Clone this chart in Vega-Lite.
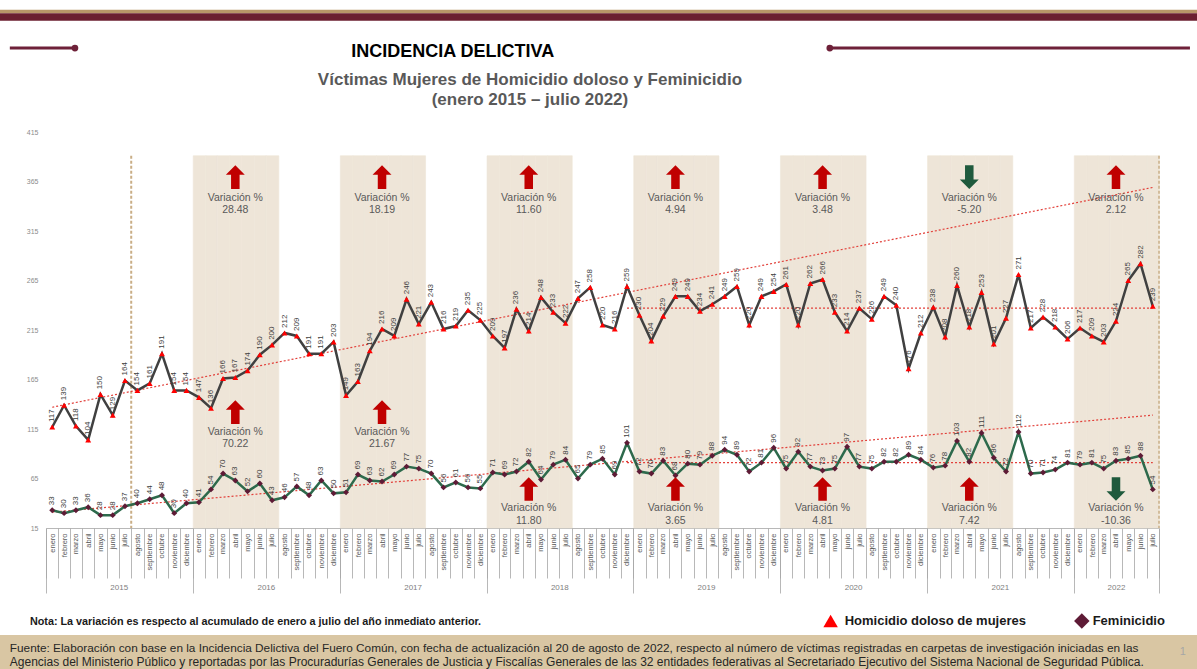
{
"$schema":"https://vega.github.io/schema/vega-lite/v6.json",
"width":1113,"height":396,
"autosize":{"type":"none"},
"padding":{"left":46,"top":132,"right":38,"bottom":141},
"background":"#FFFFFF",
"config":{"view":{"stroke":null},"font":"Liberation Sans"},
"datasets":{
"mensual":[
{"fecha":"2015-01","homicidio":117,"feminicidio":33},{"fecha":"2015-02","homicidio":139,"feminicidio":30},{"fecha":"2015-03","homicidio":118,"feminicidio":33},{"fecha":"2015-04","homicidio":104,"feminicidio":36},{"fecha":"2015-05","homicidio":150,"feminicidio":28},{"fecha":"2015-06","homicidio":129,"feminicidio":28},{"fecha":"2015-07","homicidio":164,"feminicidio":37},{"fecha":"2015-08","homicidio":154,"feminicidio":40},{"fecha":"2015-09","homicidio":161,"feminicidio":44},{"fecha":"2015-10","homicidio":191,"feminicidio":48},{"fecha":"2015-11","homicidio":154,"feminicidio":30},{"fecha":"2015-12","homicidio":154,"feminicidio":40},
{"fecha":"2016-01","homicidio":147,"feminicidio":41},{"fecha":"2016-02","homicidio":136,"feminicidio":54},{"fecha":"2016-03","homicidio":166,"feminicidio":70},{"fecha":"2016-04","homicidio":167,"feminicidio":63},{"fecha":"2016-05","homicidio":174,"feminicidio":52},{"fecha":"2016-06","homicidio":190,"feminicidio":60},{"fecha":"2016-07","homicidio":200,"feminicidio":43},{"fecha":"2016-08","homicidio":212,"feminicidio":46},{"fecha":"2016-09","homicidio":209,"feminicidio":57},{"fecha":"2016-10","homicidio":191,"feminicidio":48},{"fecha":"2016-11","homicidio":191,"feminicidio":63},{"fecha":"2016-12","homicidio":203,"feminicidio":50},
{"fecha":"2017-01","homicidio":149,"feminicidio":51},{"fecha":"2017-02","homicidio":163,"feminicidio":69},{"fecha":"2017-03","homicidio":194,"feminicidio":63},{"fecha":"2017-04","homicidio":216,"feminicidio":62},{"fecha":"2017-05","homicidio":209,"feminicidio":69},{"fecha":"2017-06","homicidio":246,"feminicidio":77},{"fecha":"2017-07","homicidio":221,"feminicidio":75},{"fecha":"2017-08","homicidio":243,"feminicidio":70},{"fecha":"2017-09","homicidio":216,"feminicidio":56},{"fecha":"2017-10","homicidio":219,"feminicidio":61},{"fecha":"2017-11","homicidio":235,"feminicidio":56},{"fecha":"2017-12","homicidio":225,"feminicidio":55},
{"fecha":"2018-01","homicidio":209,"feminicidio":71},{"fecha":"2018-02","homicidio":197,"feminicidio":69},{"fecha":"2018-03","homicidio":236,"feminicidio":72},{"fecha":"2018-04","homicidio":214,"feminicidio":82},{"fecha":"2018-05","homicidio":248,"feminicidio":64},{"fecha":"2018-06","homicidio":233,"feminicidio":79},{"fecha":"2018-07","homicidio":222,"feminicidio":84},{"fecha":"2018-08","homicidio":247,"feminicidio":65},{"fecha":"2018-09","homicidio":258,"feminicidio":79},{"fecha":"2018-10","homicidio":220,"feminicidio":85},{"fecha":"2018-11","homicidio":216,"feminicidio":69},{"fecha":"2018-12","homicidio":259,"feminicidio":101},
{"fecha":"2019-01","homicidio":230,"feminicidio":72},{"fecha":"2019-02","homicidio":204,"feminicidio":70},{"fecha":"2019-03","homicidio":229,"feminicidio":83},{"fecha":"2019-04","homicidio":249,"feminicidio":68},{"fecha":"2019-05","homicidio":249,"feminicidio":80},{"fecha":"2019-06","homicidio":234,"feminicidio":79},{"fecha":"2019-07","homicidio":241,"feminicidio":88},{"fecha":"2019-08","homicidio":249,"feminicidio":94},{"fecha":"2019-09","homicidio":259,"feminicidio":89},{"fecha":"2019-10","homicidio":220,"feminicidio":72},{"fecha":"2019-11","homicidio":249,"feminicidio":81},{"fecha":"2019-12","homicidio":254,"feminicidio":96},
{"fecha":"2020-01","homicidio":261,"feminicidio":75},{"fecha":"2020-02","homicidio":220,"feminicidio":92},{"fecha":"2020-03","homicidio":262,"feminicidio":77},{"fecha":"2020-04","homicidio":266,"feminicidio":73},{"fecha":"2020-05","homicidio":233,"feminicidio":75},{"fecha":"2020-06","homicidio":214,"feminicidio":97},{"fecha":"2020-07","homicidio":237,"feminicidio":77},{"fecha":"2020-08","homicidio":226,"feminicidio":75},{"fecha":"2020-09","homicidio":249,"feminicidio":82},{"fecha":"2020-10","homicidio":240,"feminicidio":82},{"fecha":"2020-11","homicidio":176,"feminicidio":89},{"fecha":"2020-12","homicidio":212,"feminicidio":84},
{"fecha":"2021-01","homicidio":238,"feminicidio":76},{"fecha":"2021-02","homicidio":208,"feminicidio":78},{"fecha":"2021-03","homicidio":260,"feminicidio":103},{"fecha":"2021-04","homicidio":218,"feminicidio":82},{"fecha":"2021-05","homicidio":253,"feminicidio":111},{"fecha":"2021-06","homicidio":201,"feminicidio":86},{"fecha":"2021-07","homicidio":227,"feminicidio":72},{"fecha":"2021-08","homicidio":271,"feminicidio":112},{"fecha":"2021-09","homicidio":217,"feminicidio":70},{"fecha":"2021-10","homicidio":228,"feminicidio":71},{"fecha":"2021-11","homicidio":218,"feminicidio":74},{"fecha":"2021-12","homicidio":206,"feminicidio":81},
{"fecha":"2022-01","homicidio":217,"feminicidio":79},{"fecha":"2022-02","homicidio":209,"feminicidio":81},{"fecha":"2022-03","homicidio":203,"feminicidio":75},{"fecha":"2022-04","homicidio":224,"feminicidio":83},{"fecha":"2022-05","homicidio":265,"feminicidio":85},{"fecha":"2022-06","homicidio":282,"feminicidio":88},{"fecha":"2022-07","homicidio":239,"feminicidio":54}
],
"tendencias":[
{"linea":"hom_tendencia","fecha":"2015-01","valor":137},{"linea":"hom_tendencia","fecha":"2022-07","valor":359},
{"linea":"hom_promedio","fecha":"2018-12","valor":237},{"linea":"hom_promedio","fecha":"2022-07","valor":237},
{"linea":"fem_tendencia","fecha":"2015-01","valor":31},{"linea":"fem_tendencia","fecha":"2022-07","valor":129},
{"linea":"fem_promedio","fecha":"2018-12","valor":81},{"linea":"fem_promedio","fecha":"2022-07","valor":81}
],
"variaciones":[
{"anio":2016,"centro":"2016-04","serie":"homicidio","variacion":"28.48"},
{"anio":2017,"centro":"2017-04","serie":"homicidio","variacion":"18.19"},
{"anio":2018,"centro":"2018-04","serie":"homicidio","variacion":"11.60"},
{"anio":2019,"centro":"2019-04","serie":"homicidio","variacion":"4.94"},
{"anio":2020,"centro":"2020-04","serie":"homicidio","variacion":"3.48"},
{"anio":2021,"centro":"2021-04","serie":"homicidio","variacion":"-5.20"},
{"anio":2022,"centro":"2022-04","serie":"homicidio","variacion":"2.12"},
{"anio":2016,"centro":"2016-04","serie":"feminicidio","variacion":"70.22"},
{"anio":2017,"centro":"2017-04","serie":"feminicidio","variacion":"21.67"},
{"anio":2018,"centro":"2018-04","serie":"feminicidio","variacion":"11.80"},
{"anio":2019,"centro":"2019-04","serie":"feminicidio","variacion":"3.65"},
{"anio":2020,"centro":"2020-04","serie":"feminicidio","variacion":"4.81"},
{"anio":2021,"centro":"2021-04","serie":"feminicidio","variacion":"7.42"},
{"anio":2022,"centro":"2022-04","serie":"feminicidio","variacion":"-10.36"}
]
},
"resolve":{"axis":{"x":"independent"}},
"layer":[
{"data":{"values":[{}]},"mark":{"type":"rect","color":"#B89668"},
 "encoding":{"x":{"datum":{"year":2014,"month":8,"date":1,"utc":true},"type":"temporal","axis":null},"x2":{"datum":{"year":2023,"month":1,"date":1,"utc":true}},"y":{"datum":538.5,"type":"quantitative"},"y2":{"datum":535}}},
{"data":{"values":[{}]},"mark":{"type":"rect","color":"#6B1F30"},
 "encoding":{"x":{"datum":{"year":2014,"month":8,"date":1,"utc":true},"type":"temporal","axis":null},"x2":{"datum":{"year":2023,"month":1,"date":1,"utc":true}},"y":{"datum":535,"type":"quantitative"},"y2":{"datum":527.5}}},
{"data":{"values":[{}]},"mark":{"type":"rect","color":"#D9C6A3"},
 "encoding":{"x":{"datum":{"year":2014,"month":8,"date":1,"utc":true},"type":"temporal","axis":null},"x2":{"datum":{"year":2023,"month":1,"date":1,"utc":true}},"y":{"datum":-93,"type":"quantitative"},"y2":{"datum":-140}}},
{"data":{"name":"mensual"},
 "transform":[{"filter":"utcmonth(toDate(datum.fecha)) < 7 && utcyear(toDate(datum.fecha)) >= 2016"}],
 "mark":{"type":"rect","color":"#EEE5D8","stroke":"#EEE5D8","strokeWidth":0.6},
 "encoding":{
  "x":{"field":"fecha","timeUnit":"utcyearmonth","type":"temporal",
   "scale":{"type":"utc","domain":[{"year":2015,"month":1,"date":1,"utc":true},{"year":2022,"month":8,"date":1,"utc":true}]},
   "axis":{"orient":"bottom","tickCount":{"interval":"month","step":1},"tickSize":50,"tickColor":"#A6A6A6","tickWidth":0.8,"domainColor":"#A6A6A6","domainWidth":0.8,"labelAngle":270,"labelPadding":-45,"labelOffset":6,"labelFontSize":7.5,"labelColor":"#595959","labelOverlap":false,"labelFlush":false,"grid":false,"title":null,
    "labelExpr":"datum.value >= utc(2022,7,1) ? '' : ['enero','febrero','marzo','abril','mayo','junio','julio','agosto','septiembre','octubre','noviembre','diciembre'][utcmonth(datum.value)]"}},
  "y":{"datum":391,"type":"quantitative","scale":{"domain":[15,415],"nice":false,"zero":false},
   "axis":{"orient":"left","values":[15,65,115,165,215,265,315,365,415],"ticks":false,"domain":false,"grid":false,"labelFontSize":7,"labelColor":"#8C8C8C","labelPadding":8,"title":null}},
  "y2":{"datum":15}}},
{"data":{"values":[{}]},"mark":{"type":"rule","color":"#C9AE86","strokeWidth":2,"strokeDash":[3,2]},
 "encoding":{"x":{"datum":{"year":2015,"month":8,"date":1,"utc":true},"type":"temporal","axis":null},"y":{"datum":391,"type":"quantitative"},"y2":{"datum":15}}},
{"data":{"values":[{}]},"mark":{"type":"rule","color":"#C9AE86","strokeWidth":1.5,"strokeDash":[3,2]},
 "encoding":{"x":{"datum":{"year":2022,"month":8,"date":1,"utc":true},"type":"temporal","axis":null},"y":{"datum":391,"type":"quantitative"},"y2":{"datum":15}}},
{"data":{"name":"tendencias"},
 "mark":{"type":"line","color":"#E2403A","strokeWidth":1.2,"strokeDash":[2,2]},
 "encoding":{"x":{"field":"fecha","timeUnit":"utcyearmonth","type":"temporal","bandPosition":0.5,"axis":null},"y":{"field":"valor","type":"quantitative","title":null},"detail":{"field":"linea","type":"nominal"}}},
{"data":{"name":"mensual"},
 "transform":[{"fold":["homicidio","feminicidio"],"as":["serie","valor"]}],
 "mark":{"type":"line","strokeWidth":2.5},
 "encoding":{
  "x":{"field":"fecha","timeUnit":"utcyearmonth","type":"temporal","bandPosition":0.5,
   "axis":{"orient":"bottom","values":[{"year":2015,"month":1,"date":1,"utc":true},{"year":2016,"month":1,"date":1,"utc":true},{"year":2017,"month":1,"date":1,"utc":true},{"year":2018,"month":1,"date":1,"utc":true},{"year":2019,"month":1,"date":1,"utc":true},{"year":2020,"month":1,"date":1,"utc":true},{"year":2021,"month":1,"date":1,"utc":true},{"year":2022,"month":1,"date":1,"utc":true},{"year":2022,"month":8,"date":1,"utc":true}],"tickSize":65,"tickColor":"#A6A6A6","tickWidth":0.8,"labels":false,"domain":false,"grid":false,"title":null}},
  "y":{"field":"valor","type":"quantitative","title":null},
  "stroke":{"field":"serie","type":"nominal","scale":{"domain":["homicidio","feminicidio"],"range":["#404040","#2D6A4C"]},"legend":null},
  "detail":{"field":"serie","type":"nominal"}}},
{"data":{"name":"mensual"},
 "transform":[{"fold":["homicidio","feminicidio"],"as":["serie","valor"]}],
 "mark":{"type":"point","filled":true,"size":35,"opacity":1},
 "encoding":{
  "x":{"field":"fecha","timeUnit":"utcyearmonth","type":"temporal","bandPosition":0.5,
   "axis":{"orient":"bottom","values":[{"year":2015,"month":7,"date":1,"utc":true},{"year":2016,"month":7,"date":1,"utc":true},{"year":2017,"month":7,"date":1,"utc":true},{"year":2018,"month":7,"date":1,"utc":true},{"year":2019,"month":7,"date":1,"utc":true},{"year":2020,"month":7,"date":1,"utc":true},{"year":2021,"month":7,"date":1,"utc":true},{"year":2022,"month":4,"date":16,"utc":true}],"ticks":false,"domain":false,"labelPadding":55,"labelExpr":"utcFormat(datum.value, '%Y')","labelFontSize":8,"labelColor":"#808080","labelFlush":false,"labelOverlap":false,"labelAngle":0,"grid":false,"title":null}},
  "y":{"field":"valor","type":"quantitative","title":null},
  "color":{"field":"serie","type":"nominal","scale":{"domain":["homicidio","feminicidio"],"range":["#FF0000","#5E1B36"]},"legend":null},
  "shape":{"field":"serie","type":"nominal","scale":{"domain":["homicidio","feminicidio"],"range":["triangle-up","diamond"]},"legend":null}}},
{"data":{"name":"mensual"},
 "transform":[{"fold":["homicidio","feminicidio"],"as":["serie","valor"]}],
 "mark":{"type":"text","angle":270,"align":"left","baseline":"middle","dx":5,"fontSize":8,"color":"#404040"},
 "encoding":{"x":{"field":"fecha","timeUnit":"utcyearmonth","type":"temporal","bandPosition":0.5,"axis":null},"y":{"field":"valor","type":"quantitative","title":null},"text":{"field":"valor","type":"quantitative"}}},

{"data":{"name":"variaciones"},"transform":[{"filter":"datum.serie == 'homicidio'"}],
 "mark":{"type":"point","filled":true,"opacity":1,"size":560,"strokeWidth":0},
 "encoding":{"x":{"field":"centro","timeUnit":"utcyearmonth","type":"temporal","bandPosition":0.5,"axis":null},"y":{"datum":369.5,"type":"quantitative"},
  "shape":{"condition":{"test":"toNumber(datum.variacion) < 0","value":"M0,1L0.8,0.2L0.36,0.2L0.36,-1L-0.36,-1L-0.36,0.2L-0.8,0.2Z"},"value":"M0,-1L0.8,-0.2L0.36,-0.2L0.36,1L-0.36,1L-0.36,-0.2L-0.8,-0.2Z"},
  "color":{"condition":{"test":"toNumber(datum.variacion) < 0","value":"#1F5A3D"},"value":"#C00000"}}},
{"data":{"name":"variaciones"},"transform":[{"filter":"datum.serie == 'homicidio'"}],
 "mark":{"type":"text","fontSize":10.5,"color":"#595959","align":"center","baseline":"middle"},
 "encoding":{"x":{"field":"centro","timeUnit":"utcyearmonth","type":"temporal","bandPosition":0.5,"axis":null},"y":{"datum":348.3,"type":"quantitative"},"text":{"value":"Variación %"}}},
{"data":{"name":"variaciones"},"transform":[{"filter":"datum.serie == 'homicidio'"}],
 "mark":{"type":"text","fontSize":10.5,"color":"#595959","align":"center","baseline":"middle"},
 "encoding":{"x":{"field":"centro","timeUnit":"utcyearmonth","type":"temporal","bandPosition":0.5,"axis":null},"y":{"datum":336.2,"type":"quantitative"},"text":{"field":"variacion","type":"nominal"}}},

{"data":{"name":"variaciones"},"transform":[{"filter":"datum.serie == 'feminicidio' && datum.anio <= 2017"}],
 "mark":{"type":"point","filled":true,"opacity":1,"size":560,"strokeWidth":0},
 "encoding":{"x":{"field":"centro","timeUnit":"utcyearmonth","type":"temporal","bandPosition":0.5,"axis":null},"y":{"datum":132,"type":"quantitative"},
  "shape":{"condition":{"test":"toNumber(datum.variacion) < 0","value":"M0,1L0.8,0.2L0.36,0.2L0.36,-1L-0.36,-1L-0.36,0.2L-0.8,0.2Z"},"value":"M0,-1L0.8,-0.2L0.36,-0.2L0.36,1L-0.36,1L-0.36,-0.2L-0.8,-0.2Z"},
  "color":{"condition":{"test":"toNumber(datum.variacion) < 0","value":"#1F5A3D"},"value":"#C00000"}}},
{"data":{"name":"variaciones"},"transform":[{"filter":"datum.serie == 'feminicidio' && datum.anio <= 2017"}],
 "mark":{"type":"text","fontSize":10.5,"color":"#595959","align":"center","baseline":"middle"},
 "encoding":{"x":{"field":"centro","timeUnit":"utcyearmonth","type":"temporal","bandPosition":0.5,"axis":null},"y":{"datum":112,"type":"quantitative"},"text":{"value":"Variación %"}}},
{"data":{"name":"variaciones"},"transform":[{"filter":"datum.serie == 'feminicidio' && datum.anio <= 2017"}],
 "mark":{"type":"text","fontSize":10.5,"color":"#595959","align":"center","baseline":"middle"},
 "encoding":{"x":{"field":"centro","timeUnit":"utcyearmonth","type":"temporal","bandPosition":0.5,"axis":null},"y":{"datum":99.8,"type":"quantitative"},"text":{"field":"variacion","type":"nominal"}}},

{"data":{"name":"variaciones"},"transform":[{"filter":"datum.serie == 'feminicidio' && datum.anio >= 2018"}],
 "mark":{"type":"point","filled":true,"opacity":1,"size":560,"strokeWidth":0},
 "encoding":{"x":{"field":"centro","timeUnit":"utcyearmonth","type":"temporal","bandPosition":0.5,"axis":null},"y":{"datum":54.4,"type":"quantitative"},
  "shape":{"condition":{"test":"toNumber(datum.variacion) < 0","value":"M0,1L0.8,0.2L0.36,0.2L0.36,-1L-0.36,-1L-0.36,0.2L-0.8,0.2Z"},"value":"M0,-1L0.8,-0.2L0.36,-0.2L0.36,1L-0.36,1L-0.36,-0.2L-0.8,-0.2Z"},
  "color":{"condition":{"test":"toNumber(datum.variacion) < 0","value":"#1F5A3D"},"value":"#C00000"}}},
{"data":{"name":"variaciones"},"transform":[{"filter":"datum.serie == 'feminicidio' && datum.anio >= 2018"}],
 "mark":{"type":"text","fontSize":10.5,"color":"#595959","align":"center","baseline":"middle"},
 "encoding":{"x":{"field":"centro","timeUnit":"utcyearmonth","type":"temporal","bandPosition":0.5,"axis":null},"y":{"datum":35.2,"type":"quantitative"},"text":{"value":"Variación %"}}},
{"data":{"name":"variaciones"},"transform":[{"filter":"datum.serie == 'feminicidio' && datum.anio >= 2018"}],
 "mark":{"type":"text","fontSize":10.5,"color":"#595959","align":"center","baseline":"middle"},
 "encoding":{"x":{"field":"centro","timeUnit":"utcyearmonth","type":"temporal","bandPosition":0.5,"axis":null},"y":{"datum":22.1,"type":"quantitative"},"text":{"field":"variacion","type":"nominal"}}},

{"data":{"values":[{}]},"mark":{"type":"point","shape":"triangle-up","filled":true,"color":"#FF0000","size":210,"opacity":1},
 "encoding":{"x":{"datum":{"year":2020,"month":5,"date":6,"utc":true},"type":"temporal","axis":null},"y":{"datum":-78.9,"type":"quantitative"}}},
{"data":{"values":[{}]},"mark":{"type":"text","fontSize":13,"fontWeight":"bold","color":"#1A1A1A","align":"left","baseline":"middle"},
 "encoding":{"x":{"datum":{"year":2020,"month":6,"date":10,"utc":true},"type":"temporal","axis":null},"y":{"datum":-78.9,"type":"quantitative"},"text":{"value":"Homicidio doloso de mujeres"}}},
{"data":{"values":[{}]},"mark":{"type":"point","shape":"diamond","filled":true,"color":"#5E1B36","size":240,"opacity":1},
 "encoding":{"x":{"datum":{"year":2022,"month":1,"date":21,"utc":true},"type":"temporal","axis":null},"y":{"datum":-78.9,"type":"quantitative"}}},
{"data":{"values":[{}]},"mark":{"type":"text","fontSize":13,"fontWeight":"bold","color":"#1A1A1A","align":"left","baseline":"middle"},
 "encoding":{"x":{"datum":{"year":2022,"month":2,"date":17,"utc":true},"type":"temporal","axis":null},"y":{"datum":-78.9,"type":"quantitative"},"text":{"value":"Feminicidio"}}},

{"data":{"values":[{}]},"mark":{"type":"rule","color":"#6E2139","strokeWidth":3},
 "encoding":{"x":{"datum":{"year":2014,"month":10,"date":3,"utc":true},"type":"temporal","axis":null},"x2":{"datum":{"year":2015,"month":3,"date":14,"utc":true}},"y":{"datum":499.8,"type":"quantitative"}}},
{"data":{"values":[{}]},"mark":{"type":"rule","color":"#6E2139","strokeWidth":3},
 "encoding":{"x":{"datum":{"year":2020,"month":5,"date":4,"utc":true},"type":"temporal","axis":null},"x2":{"datum":{"year":2022,"month":10,"date":17,"utc":true}},"y":{"datum":499.8,"type":"quantitative"}}},
{"data":{"values":[{}]},"mark":{"type":"point","shape":"circle","filled":true,"color":"#6E2139","size":45,"opacity":1},
 "encoding":{"x":{"datum":{"year":2015,"month":3,"date":14,"utc":true},"type":"temporal","axis":null},"y":{"datum":499.8,"type":"quantitative"}}},
{"data":{"values":[{}]},"mark":{"type":"point","shape":"circle","filled":true,"color":"#6E2139","size":45,"opacity":1},
 "encoding":{"x":{"datum":{"year":2020,"month":5,"date":4,"utc":true},"type":"temporal","axis":null},"y":{"datum":499.8,"type":"quantitative"}}},

{"data":{"values":[{}]},"mark":{"type":"text","fontSize":18,"fontWeight":"bold","color":"#000000","align":"center","baseline":"middle"},
 "encoding":{"x":{"datum":{"year":2017,"month":10,"date":9,"utc":true},"type":"temporal","axis":null},"y":{"datum":495.8,"type":"quantitative"},"text":{"value":"INCIDENCIA DELICTIVA"}}},
{"data":{"values":[{}]},"mark":{"type":"text","fontSize":17,"fontWeight":"bold","color":"#595959","align":"center","baseline":"middle"},
 "encoding":{"x":{"datum":{"year":2018,"month":4,"date":19,"utc":true},"type":"temporal","axis":null},"y":{"datum":467.5,"type":"quantitative"},"text":{"value":"Víctimas Mujeres de Homicidio doloso y Feminicidio"}}},
{"data":{"values":[{}]},"mark":{"type":"text","fontSize":17,"fontWeight":"bold","color":"#595959","align":"center","baseline":"middle"},
 "encoding":{"x":{"datum":{"year":2018,"month":4,"date":19,"utc":true},"type":"temporal","axis":null},"y":{"datum":447.3,"type":"quantitative"},"text":{"value":"(enero 2015 – julio 2022)"}}},

{"data":{"values":[{}]},"mark":{"type":"text","fontSize":10.8,"fontWeight":"bold","color":"#1A1A1A","align":"left","baseline":"middle"},
 "encoding":{"x":{"datum":{"year":2014,"month":11,"date":22,"utc":true},"type":"temporal","axis":null},"y":{"datum":-80,"type":"quantitative"},"text":{"value":"Nota: La variación es respecto al acumulado de enero a julio del año inmediato anterior."}}},
{"data":{"values":[{}]},"mark":{"type":"text","fontSize":11.8,"color":"#262626","align":"left","baseline":"middle"},
 "encoding":{"x":{"datum":{"year":2014,"month":10,"date":3,"utc":true},"type":"temporal","axis":null},"y":{"datum":-106.2,"type":"quantitative"},"text":{"value":"Fuente: Elaboración con base en la Incidencia Delictiva del Fuero Común, con fecha de actualización al 20 de agosto de 2022, respecto al número de víctimas registradas en carpetas de investigación iniciadas en las"}}},
{"data":{"values":[{}]},"mark":{"type":"text","fontSize":12,"color":"#262626","align":"left","baseline":"middle"},
 "encoding":{"x":{"datum":{"year":2014,"month":10,"date":3,"utc":true},"type":"temporal","axis":null},"y":{"datum":-120.4,"type":"quantitative"},"text":{"value":"Agencias del Ministerio Público y reportadas por las Procuradurías Generales de Justicia y Fiscalías Generales de las 32 entidades federativas al Secretariado Ejecutivo del Sistema Nacional de Seguridad Pública."}}},
{"data":{"values":[{}]},"mark":{"type":"text","fontSize":11,"color":"#A6A6A6","align":"center","baseline":"middle"},
 "encoding":{"x":{"datum":{"year":2022,"month":9,"date":29,"utc":true},"type":"temporal","axis":null},"y":{"datum":-110.3,"type":"quantitative"},"text":{"value":"1"}}}
]
}
